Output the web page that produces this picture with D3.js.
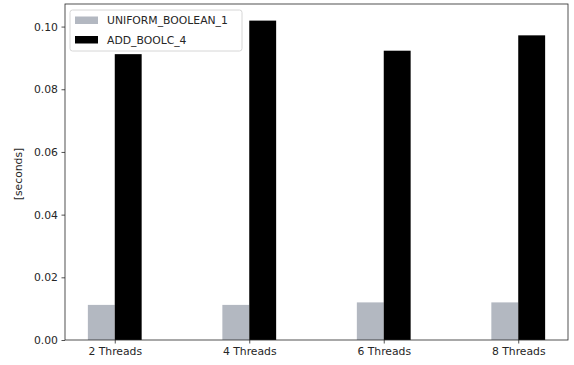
<!DOCTYPE html>
<html>
<head>
<meta charset="utf-8">
<script src="https://cdn.jsdelivr.net/npm/d3@7"></script>
<style>
  html, body { margin: 0; padding: 0; background: #fff; }
  svg { display: block; font-family: "DejaVu Sans", sans-serif; }
</style>
</head>
<body>
<svg id="chart" width="574" height="365"></svg>
<script>
// Benchmark timings per thread count
const categories = ["2 Threads", "4 Threads", "6 Threads", "8 Threads"];
const seriesNames = ["UNIFORM_BOOLEAN_1", "ADD_BOOLC_4"];
const uniformBoolean = [0.0112, 0.0112, 0.0120, 0.0120];
const addBoolc = [0.0912, 0.1019, 0.0923, 0.0972];
const yTicks = [0.00, 0.02, 0.04, 0.06, 0.08, 0.10];
const colors = ["#b3b8c1", "#000000"];

const svg = d3.select("#chart");
const margin = { left: 65, right: 6, top: 4, bottom: 25 };
const W = 574, H = 365;
const barWidth = 0.2;
const fontSize = 10.8;

// Category positions are numeric (0..n-1), bars offset to either side of the tick
const x = d3.scaleLinear()
  .domain([-0.1 - barWidth / 2 - 0.17, categories.length - 1 + 0.1 + barWidth / 2 + 0.17])
  .range([margin.left, W - margin.right]);
const y = d3.scaleLinear()
  .domain([0, 0.1072])
  .range([H - margin.bottom, margin.top]);

const series = [uniformBoolean, addBoolc];
series.forEach((vals, si) => {
  svg.append("g").selectAll("rect")
    .data(vals)
    .join("rect")
    .attr("x", (d, i) => x(i + (si === 0 ? -barWidth : 0)))
    .attr("width", x(barWidth) - x(0))
    .attr("y", d => y(d))
    .attr("height", d => y(0) - y(d))
    .attr("fill", colors[si]);
});

// Axes
const xAxis = d3.axisBottom(x)
  .tickValues(d3.range(categories.length))
  .tickFormat(i => categories[i])
  .tickSize(3.5).tickPadding(3.5);
const yAxis = d3.axisLeft(y)
  .tickValues(yTicks)
  .tickFormat(d3.format(".2f"))
  .tickSize(3.5).tickPadding(3.5);

const gx = svg.append("g").attr("transform", `translate(0,${H - margin.bottom})`).call(xAxis);
const gy = svg.append("g").attr("transform", `translate(${margin.left},0)`).call(yAxis);
[gx, gy].forEach(g => {
  g.select(".domain").remove();
  g.selectAll("text").attr("font-size", fontSize).attr("fill", "#262626").attr("font-family", "DejaVu Sans, sans-serif");
  g.selectAll("line").attr("stroke", "#262626").attr("stroke-width", 0.8);
});

// Frame
svg.append("rect")
  .attr("x", margin.left).attr("y", margin.top)
  .attr("width", W - margin.right - margin.left)
  .attr("height", H - margin.bottom - margin.top)
  .attr("fill", "none").attr("stroke", "#262626").attr("stroke-width", 0.8);

// Y label
svg.append("text")
  .attr("transform", `translate(22,${(margin.top + H - margin.bottom) / 2 + 2}) rotate(-90)`)
  .attr("text-anchor", "middle")
  .attr("font-size", fontSize).attr("fill", "#262626")
  .text("[seconds]");

// Legend
const lg = svg.append("g").attr("transform", `translate(70,10)`);
lg.append("rect")
  .attr("width", 172).attr("height", 41).attr("rx", 2.5)
  .attr("fill", "#fff").attr("fill-opacity", 0.8)
  .attr("stroke", "#cccccc").attr("stroke-width", 0.8);
seriesNames.forEach((name, i) => {
  const row = lg.append("g").attr("transform", `translate(5,${6.5 + i * 19.5})`);
  row.append("rect").attr("width", 23).attr("height", 7.5).attr("y", 0).attr("fill", colors[i]);
  row.append("text").attr("x", 32).attr("y", 7.8).attr("font-size", fontSize).attr("fill", "#262626").text(name);
});
</script>
</body>
</html>
